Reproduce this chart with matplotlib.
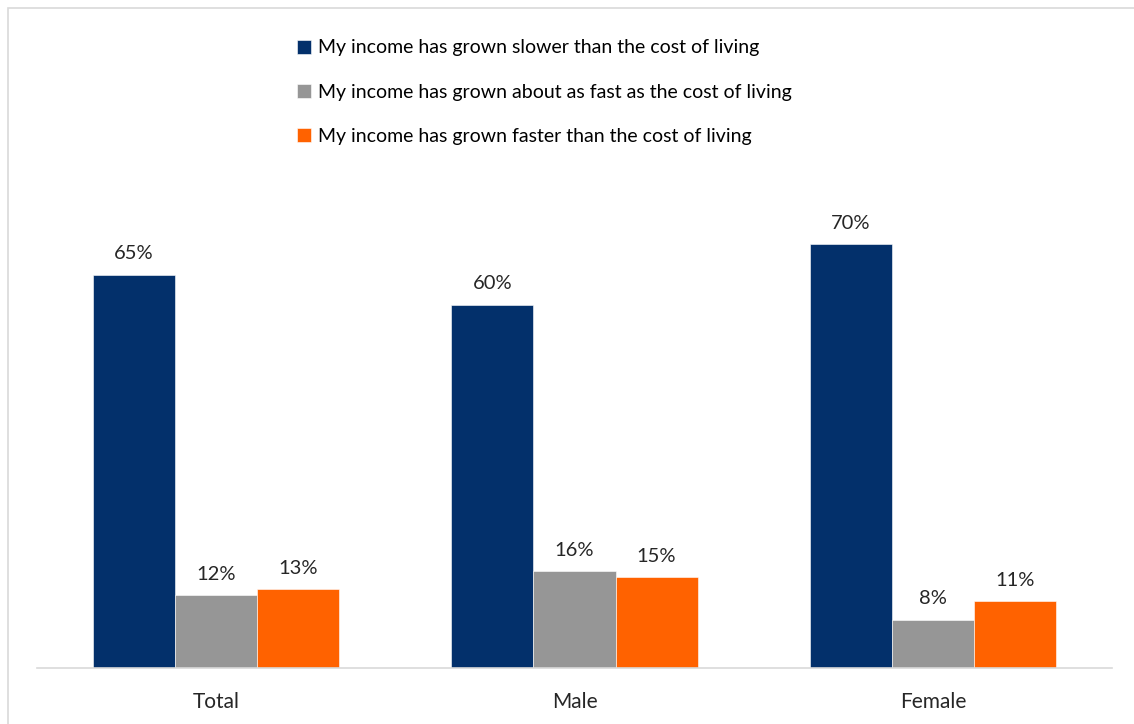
import numpy as np
import matplotlib
matplotlib.use("Agg")
import matplotlib.pyplot as plt
from matplotlib.patches import Rectangle

plt.rcParams["font.family"] = ["Lato", "DejaVu Sans"]

categories = ["Total", "Male", "Female"]
series_names = [
    "My income has grown slower than the cost of living",
    "My income has grown about as fast as the cost of living",
    "My income has grown faster than the cost of living",
]
slower = [65, 60, 70]
about_same = [12, 16, 8]
faster = [13, 15, 11]
colors = ["#03306B", "#969696", "#FF6200"]

W, H = 1134, 724
fig = plt.figure(figsize=(W / 100, H / 100), dpi=100)
ax = fig.add_axes([37 / W, 56 / H, (1112 - 37) / W, 484 / H])

x = np.arange(len(categories))
width = 0.229
for i, (vals, col, name) in enumerate(zip([slower, about_same, faster], colors, series_names)):
    pos = x + (i - 1) * width
    bars = ax.bar(pos, vals, width, color=col, label=name,
                  edgecolor="white", linewidth=0.4)
    for b, v in zip(bars, vals):
        ax.annotate(f"{v}%", (b.get_x() + b.get_width() / 2, v),
                    xytext=(0, 9), textcoords="offset points",
                    ha="center", va="bottom", fontsize=14.5, color="#262626")

ax.set_xlim(-0.5, 2.5)
ax.set_ylim(0, 80)
ax.set_xticks(x)
ax.set_xticklabels(categories, fontsize=15, color="#262626")
ax.tick_params(axis="x", length=0, pad=17)
ax.set_yticks([])
for side in ["left", "right", "top"]:
    ax.spines[side].set_visible(False)
ax.spines["bottom"].set_color("#D9D9D9")
ax.spines["bottom"].set_linewidth(1.2)

fig.legend(loc="upper left", bbox_to_anchor=(279 / W, 1 - 22 / H),
           frameon=False, fontsize=14, handlelength=0.75, handleheight=0.75,
           handletextpad=0.35, labelspacing=1.4, labelcolor="#000000")

# outer frame around the chart area
fig.patches.append(Rectangle((8 / W, -0.05), 1.1, 1 - 8 / H + 0.05,
                             transform=fig.transFigure, fill=False,
                             edgecolor="#D9D9D9", linewidth=1.2))

fig.savefig("out.png", dpi=100)
